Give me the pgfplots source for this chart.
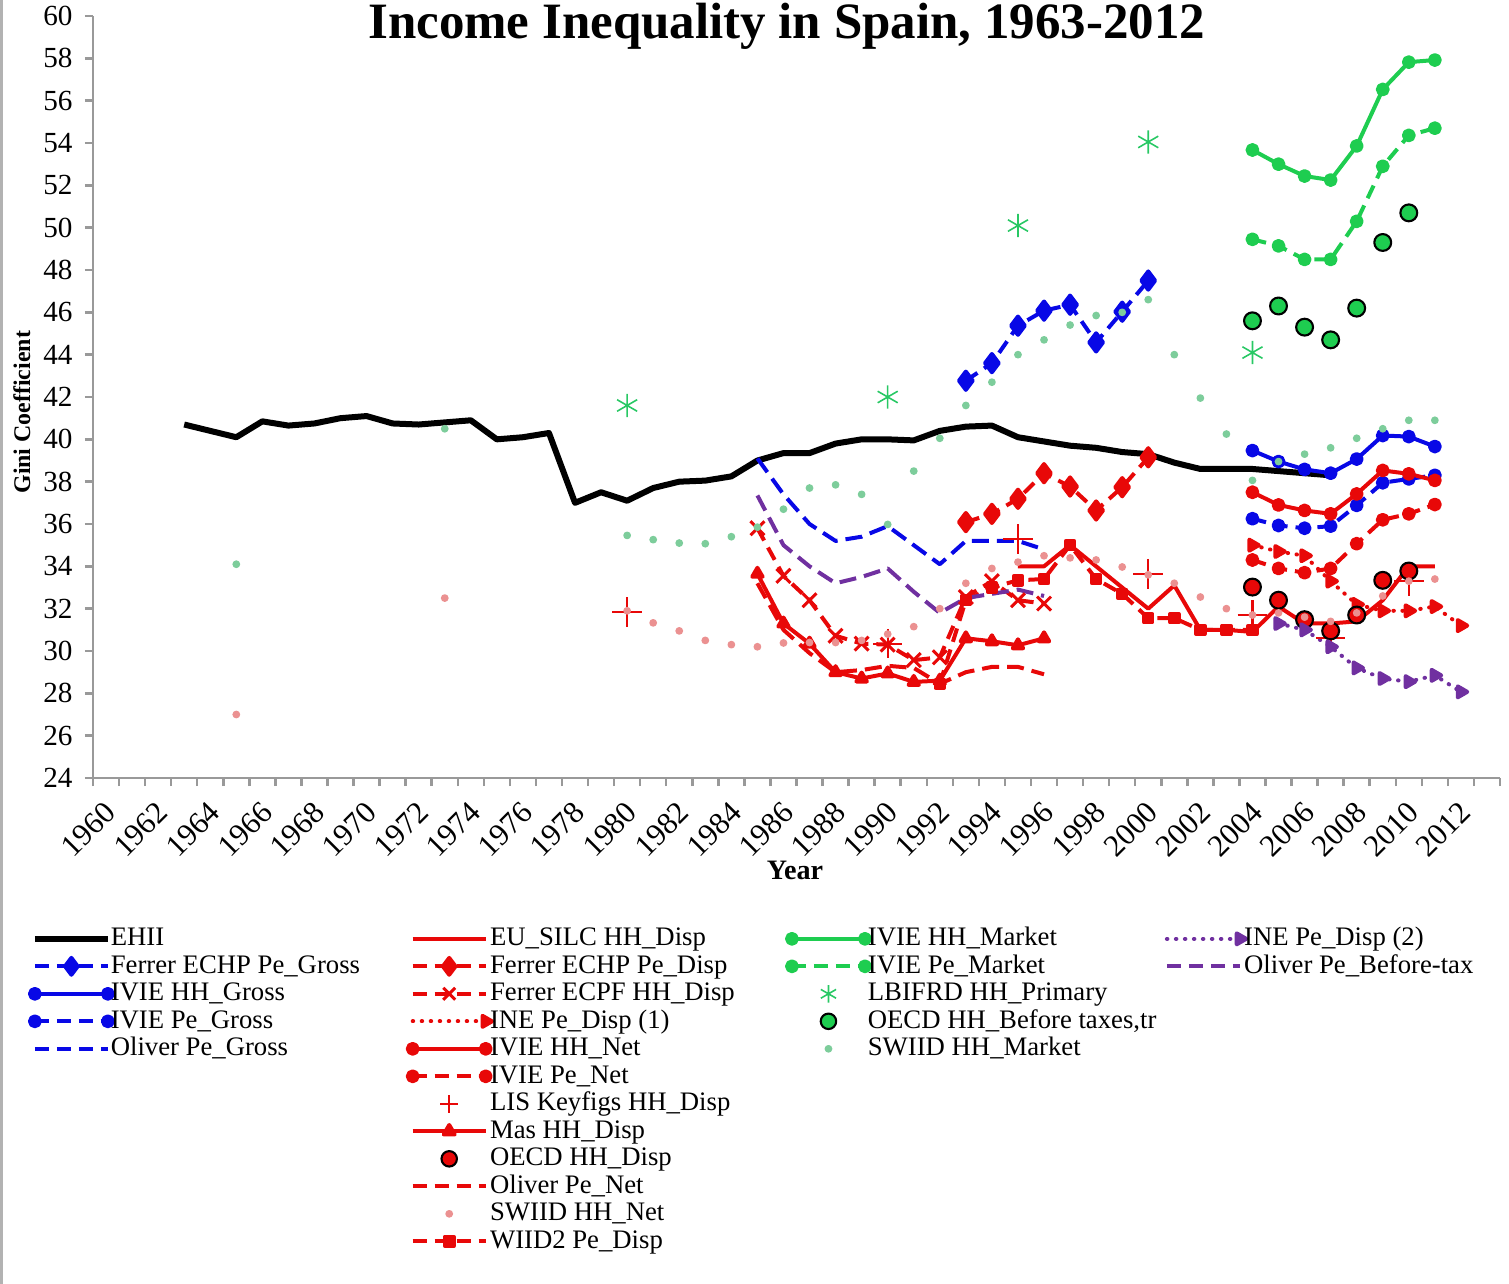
\documentclass[border=0pt]{standalone}
\usepackage{fontspec}
\setmainfont{Liberation Serif}
\usepackage{pgfplots}
\pgfplotsset{compat=1.18}
\definecolor{cred}{RGB}{232,8,8}
\definecolor{cblue}{RGB}{8,8,230}
\definecolor{cgreen}{RGB}{30,205,80}
\definecolor{cpurple}{RGB}{112,48,160}
\definecolor{swg}{RGB}{125,205,155}
\definecolor{swp}{RGB}{235,145,145}
\definecolor{lbg}{RGB}{40,200,100}
\pgfplotsset{
  lw/.style={line width=0.4mm},
  dsh/.style={dash pattern=on 1.4mm off 0.8mm},
  dshl/.style={dash pattern=on 1.7mm off 0.8mm},
  dts/.style={dash pattern=on 0.05mm off 0.85mm, line cap=round},
  leg/.style={legend image code/.code={\draw[mark repeat=2,mark phase=2,##1] plot coordinates {(0mm,0mm) (3.65mm,0mm) (7.3mm,0mm)};}},
  legends/.style={legend image code/.code={\draw[##1] plot coordinates {(0mm,0mm) (7.3mm,0mm)};}},
  legarrow/.style={legend image code/.code={\draw[##1,mark repeat=2,mark phase=3] plot coordinates {(0mm,0mm) (3.65mm,0mm) (7.3mm,0mm)};}},
}
\newcommand{\LE}[1]{\addlegendentry{\makebox[28.9mm][l]{\hspace*{-0.5mm}#1}}}
\newcommand{\LX}{\addlegendimage{empty legend}\addlegendentry{}}
\begin{document}
\begin{tikzpicture}
\path[use as bounding box] (-9.3mm,-50.6mm) rectangle (141.6mm,77.8mm);
\begin{axis}[
  scale only axis, width=140.7mm, height=76.2mm,
  xmin=1959.5, xmax=2013.5, ymin=24, ymax=60,
  axis lines=left, axis line style={-, draw=gray!80, line width=0.25mm},
  xtick={1960,1962,...,2012},
  minor xtick={1959.5,1960.5,...,2013.5},
  ytick={24,26,...,60},
  tick align=outside, major tick length=0.8mm, minor tick length=0.8mm,
  tick style={gray!80, line width=0.25mm},
  major x tick style={draw=none},
  /pgf/number format/1000 sep={},
  /pgf/number format/assume math mode=true,
  xticklabel style={yshift=-2.1mm, xshift=0.5mm, rotate=45, anchor=east, font=\fontsize{8.8}{10}\selectfont, inner sep=0pt},
  yticklabel style={font=\fontsize{8.3}{9}\selectfont},
  title={Income Inequality in Spain, 1963-2012},
  every axis title/.style={at={(axis description cs:0.493,1)}, anchor=base, yshift=-2.2mm, inner sep=0pt, font=\bfseries\fontsize{14.5}{16}\selectfont},
  ylabel={Gini Coefficient},
  ylabel style={at={(axis description cs:-0.0505,0.48)}, anchor=center, font=\bfseries\fontsize{6.8}{8}\selectfont},
  xlabel={Year},
  xlabel style={at={(axis description cs:0.499,-0.121)}, anchor=center, font=\bfseries\fontsize{8}{9}\selectfont},
  leg,
  legend columns=4,
  legend cell align=left,
  legend style={at={(axis description cs:-0.0448,-0.193)}, anchor=north west, draw=none, fill=none, inner sep=0pt, outer sep=0pt, font=\fontsize{7.6}{9}\selectfont, column sep=0pt, row sep=0pt, nodes={inner xsep=0.3mm, inner ysep=0.15mm, text height=1.9mm, text depth=0.55mm}},
  every axis plot/.append style={line join=round, forget plot},
]
% EHII
\addplot[black, line width=0.6mm] coordinates {(1963,40.7)(1964,40.4)(1965,40.1)(1966,40.85)(1967,40.65)(1968,40.75)(1969,41.0)(1970,41.1)(1971,40.75)(1972,40.7)(1973,40.8)(1974,40.9)(1975,40.0)(1976,40.1)(1977,40.3)(1978,37.0)(1979,37.5)(1980,37.1)(1981,37.7)(1982,38.0)(1983,38.05)(1984,38.25)(1985,39.0)(1986,39.35)(1987,39.35)(1988,39.8)(1989,40.0)(1990,40.0)(1991,39.95)(1992,40.4)(1993,40.6)(1994,40.65)(1995,40.1)(1996,39.9)(1997,39.7)(1998,39.6)(1999,39.4)(2000,39.3)(2001,38.9)(2002,38.6)(2003,38.6)(2004,38.6)(2005,38.5)(2006,38.4)(2007,38.3)};
% Ferrer ECHP Pe_Gross
\addplot[cblue, lw, dsh, mark=diamond*, mark size=2.6pt, mark options={solid}] coordinates {(1993,42.77)(1994,43.6)(1995,45.37)(1996,46.08)(1997,46.36)(1998,44.58)(1999,46.03)(2000,47.5)};
% IVIE HH_Gross
\addplot[cblue, lw, mark=*, mark size=1.4pt] coordinates {(2004,39.47)(2005,38.95)(2006,38.58)(2007,38.4)(2008,39.07)(2009,40.18)(2010,40.13)(2011,39.66)};
% IVIE Pe_Gross
\addplot[cblue, lw, dsh, mark=*, mark size=1.4pt, mark options={solid}] coordinates {(2004,36.25)(2005,35.93)(2006,35.8)(2007,35.9)(2008,36.88)(2009,37.95)(2010,38.13)(2011,38.3)};
% Oliver Pe_Gross
\addplot[cblue, lw, dshl] coordinates {(1985,39.1)(1986,37.4)(1987,36.0)(1988,35.2)(1989,35.4)(1990,35.9)(1991,35.0)(1992,34.1)(1993,35.2)(1994,35.2)(1995,35.2)(1996,34.8)};
% EU_SILC HH_Disp
\addplot[cred, lw] coordinates {(1995,34.0)(1996,34.0)(1997,35.0)(1998,34.0)(1999,33.0)(2000,32.0)(2001,33.1)(2002,31.0)(2003,31.0)(2004,30.9)(2005,32.1)(2006,31.3)(2007,31.3)(2008,31.4)(2009,32.4)(2010,34.0)(2011,34.0)};
% Ferrer ECHP Pe_Disp
\addplot[cred, lw, dsh, mark=diamond*, mark size=2.6pt, mark options={solid}] coordinates {(1993,36.09)(1994,36.48)(1995,37.19)(1996,38.4)(1997,37.77)(1998,36.64)(1999,37.74)(2000,39.15)};
% Ferrer ECPF HH_Disp
\addplot[cred, lw, dsh, mark=x, mark size=2.8pt, mark options={solid, line width=0.3mm}] coordinates {(1985,35.8)(1986,33.55)(1987,32.4)(1988,30.72)(1989,30.35)(1990,30.3)(1991,29.57)(1992,29.7)(1993,32.55)(1994,33.3)(1995,32.4)(1996,32.24)};
% INE Pe_Disp (1)
\addplot[cred, lw, dts, mark=triangle*, mark size=1.8pt, mark options={solid, rotate=-90}] coordinates {(2004,35.0)(2005,34.7)(2006,34.5)(2007,33.3)(2008,32.2)(2009,31.9)(2010,31.9)(2011,32.1)(2012,31.2)};
% IVIE HH_Net
\addplot[cred, lw, mark=*, mark size=1.4pt] coordinates {(2004,37.5)(2005,36.9)(2006,36.64)(2007,36.48)(2008,37.42)(2009,38.53)(2010,38.37)(2011,38.06)};
% IVIE Pe_Net
\addplot[cred, lw, dsh, mark=*, mark size=1.4pt, mark options={solid}] coordinates {(2004,34.3)(2005,33.9)(2006,33.7)(2007,33.9)(2008,35.07)(2009,36.2)(2010,36.48)(2011,36.92)};
% LIS Keyfigs HH_Disp
\addplot[cred, only marks, mark=+, mark size=4.2pt, mark options={line width=0.6pt}] coordinates {(1980,31.85)(1990,30.35)(1995,35.3)(2000,33.65)(2004,31.7)(2007,30.63)(2010,33.3)};
% Mas HH_Disp
\addplot[cred, lw, mark=triangle*, mark size=1.7pt] coordinates {(1985,33.65)(1986,31.3)(1987,30.35)(1988,29.0)(1989,28.7)(1990,28.94)(1991,28.54)(1992,28.6)(1993,30.6)(1994,30.46)(1995,30.27)(1996,30.6)};
% OECD HH_Disp
\addplot[only marks, mark=*, mark size=2.4pt, mark options={fill=cred, draw=black, line width=0.6pt}] coordinates {(2004,33.02)(2005,32.4)(2006,31.48)(2007,30.95)(2008,31.7)(2009,33.34)(2010,33.78)};
% Oliver Pe_Net
\addplot[cred, lw, dshl] coordinates {(1985,33.2)(1986,31.0)(1987,29.9)(1988,29.0)(1989,29.1)(1990,29.3)(1991,29.2)(1992,28.45)(1993,29.0)(1994,29.25)(1995,29.25)(1996,28.9)};
% SWIID HH_Net
\addplot[swp, only marks, mark=*, mark size=0.9pt] coordinates {(1965,27.0)(1973,32.5)(1980,31.9)(1981,31.33)(1982,30.95)(1983,30.5)(1984,30.3)(1985,30.2)(1986,30.38)(1987,30.4)(1988,30.4)(1989,30.5)(1990,30.8)(1991,31.15)(1992,32.0)(1993,33.2)(1994,33.9)(1995,34.2)(1996,34.5)(1997,34.4)(1998,34.3)(1999,33.97)(2000,33.6)(2001,33.2)(2002,32.55)(2003,32.0)(2004,31.7)(2005,31.8)(2006,31.6)(2007,31.4)(2008,31.8)(2009,32.6)(2010,33.3)(2011,33.4)};
% WIID2 Pe_Disp
\addplot[cred, lw, dsh, mark=square*, mark size=1.2pt, mark options={solid}] coordinates {(1992,28.45)(1993,32.4)(1994,33.0)(1995,33.34)(1996,33.4)(1997,35.0)(1998,33.4)(1999,32.7)(2000,31.55)(2001,31.55)(2002,31.0)(2003,31.0)(2004,31.0)};
% IVIE HH_Market
\addplot[cgreen, lw, mark=*, mark size=1.4pt] coordinates {(2004,53.67)(2005,53.0)(2006,52.44)(2007,52.25)(2008,53.86)(2009,56.53)(2010,57.82)(2011,57.92)};
% IVIE Pe_Market
\addplot[cgreen, lw, dsh, mark=*, mark size=1.4pt, mark options={solid}] coordinates {(2004,49.45)(2005,49.14)(2006,48.5)(2007,48.5)(2008,50.3)(2009,52.9)(2010,54.36)(2011,54.7)};
% LBIFRD HH_Primary
\addplot[lbg, only marks, mark=asterisk, mark size=3.3pt, mark options={line width=0.45pt}] coordinates {(1980,41.6)(1990,42.0)(1995,50.1)(2000,54.05)(2004,44.1)};
% OECD HH_Before taxes,tr
\addplot[only marks, mark=*, mark size=2.4pt, mark options={fill=cgreen, draw=black, line width=0.6pt}] coordinates {(2004,45.6)(2005,46.3)(2006,45.3)(2007,44.7)(2008,46.2)(2009,49.3)(2010,50.7)};
% SWIID HH_Market
\addplot[swg, only marks, mark=*, mark size=0.9pt] coordinates {(1965,34.1)(1973,40.5)(1980,35.46)(1981,35.26)(1982,35.1)(1983,35.07)(1984,35.4)(1985,35.85)(1986,36.7)(1987,37.7)(1988,37.85)(1989,37.4)(1990,35.98)(1991,38.5)(1992,40.05)(1993,41.6)(1994,42.7)(1995,44.0)(1996,44.7)(1997,45.4)(1998,45.85)(1999,46.0)(2000,46.6)(2001,44.0)(2002,41.95)(2003,40.25)(2004,38.06)(2005,38.95)(2006,39.3)(2007,39.6)(2008,40.05)(2009,40.5)(2010,40.9)(2011,40.9)};
% INE Pe_Disp (2)
\addplot[cpurple, lw, dts, mark=triangle*, mark size=1.8pt, mark options={solid, rotate=-90}] coordinates {(2005,31.3)(2006,31.0)(2007,30.2)(2008,29.2)(2009,28.7)(2010,28.55)(2011,28.85)(2012,28.07)};
% Oliver Pe_Before-tax
\addplot[cpurple, lw, dshl] coordinates {(1985,37.35)(1986,35.0)(1987,34.0)(1988,33.2)(1989,33.5)(1990,33.9)(1991,32.8)(1992,31.8)(1993,32.5)(1994,32.7)(1995,32.9)(1996,32.6)};

% ---- legend (row-major, 4 columns) ----
\addlegendimage{black, line width=0.6mm}\LE{EHII}
\addlegendimage{cred, lw}\LE{EU\_SILC HH\_Disp}
\addlegendimage{cgreen, lw, mark=*, mark size=1.4pt, legends}\LE{IVIE HH\_Market}
\addlegendimage{cpurple, lw, dts, mark=triangle*, mark size=1.8pt, mark options={solid, rotate=-90}, legarrow}\LE{INE Pe\_Disp (2)}
\addlegendimage{cblue, lw, dsh, mark=diamond*, mark size=2.4pt, mark options={solid}}\LE{Ferrer ECHP Pe\_Gross}
\addlegendimage{cred, lw, dsh, mark=diamond*, mark size=2.4pt, mark options={solid}}\LE{Ferrer ECHP Pe\_Disp}
\addlegendimage{cgreen, lw, dsh, mark=*, mark size=1.4pt, mark options={solid}, legends}\LE{IVIE Pe\_Market}
\addlegendimage{cpurple, lw, dsh}\LE{Oliver Pe\_Before-tax}
\addlegendimage{cblue, lw, mark=*, mark size=1.4pt, legends}\LE{IVIE HH\_Gross}
\addlegendimage{cred, lw, dsh, mark=x, mark size=2.4pt, mark options={solid, line width=0.3mm}}\LE{Ferrer ECPF HH\_Disp}
\addlegendimage{lbg, only marks, mark=asterisk, mark size=2.5pt, mark options={line width=0.45pt}, leg}\LE{LBIFRD HH\_Primary}
\LX
\addlegendimage{cblue, lw, dsh, mark=*, mark size=1.4pt, mark options={solid}, legends}\LE{IVIE Pe\_Gross}
\addlegendimage{cred, lw, dts, mark=triangle*, mark size=1.8pt, mark options={solid, rotate=-90}, legarrow}\LE{INE Pe\_Disp (1)}
\addlegendimage{only marks, mark=*, mark size=2.2pt, mark options={fill=cgreen, draw=black, line width=0.6pt}, leg}\LE{OECD HH\_Before taxes,tr}
\LX
\addlegendimage{cblue, lw, dsh}\LE{Oliver Pe\_Gross}
\addlegendimage{cred, lw, mark=*, mark size=1.4pt, legends}\LE{IVIE HH\_Net}
\addlegendimage{swg, only marks, mark=*, mark size=0.9pt, leg}\LE{SWIID HH\_Market}
\LX
\LX
\addlegendimage{cred, lw, dsh, mark=*, mark size=1.4pt, mark options={solid}, legends}\LE{IVIE Pe\_Net}
\LX
\LX
\LX
\addlegendimage{cred, only marks, mark=+, mark size=2.5pt, mark options={line width=0.6pt}, leg}\LE{LIS Keyfigs HH\_Disp}
\LX
\LX
\LX
\addlegendimage{cred, lw, mark=triangle*, mark size=1.8pt}\LE{Mas HH\_Disp}
\LX
\LX
\LX
\addlegendimage{only marks, mark=*, mark size=2.2pt, mark options={fill=cred, draw=black, line width=0.6pt}, leg}\LE{OECD HH\_Disp}
\LX
\LX
\LX
\addlegendimage{cred, lw, dsh}\LE{Oliver Pe\_Net}
\LX
\LX
\LX
\addlegendimage{swp, only marks, mark=*, mark size=0.9pt, leg}\LE{SWIID HH\_Net}
\LX
\LX
\LX
\addlegendimage{cred, lw, dsh, mark=square*, mark size=1.3pt, mark options={solid}}\LE{WIID2 Pe\_Disp}
\end{axis}
\draw[gray!60, line width=0.3mm] (-9.15mm,-50.6mm) -- (-9.15mm,77.8mm);
\end{tikzpicture}
\end{document}
